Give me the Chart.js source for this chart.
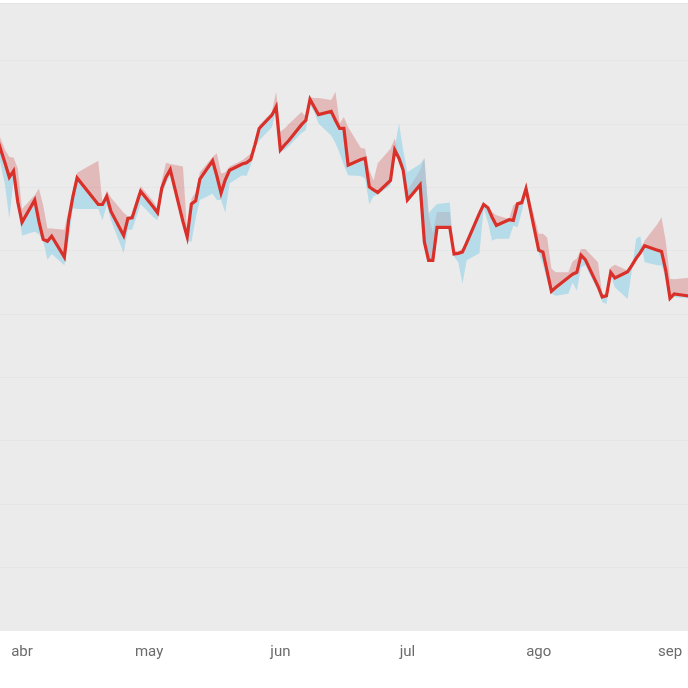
<!DOCTYPE html>
<html>
<head>
<meta charset="utf-8">
<script src="https://cdn.jsdelivr.net/npm/chart.js@4.4.1/dist/chart.umd.min.js"></script>
<style>
  html, body { margin: 0; padding: 0; background: #ffffff; }
  canvas { display: block; }
</style>
</head>
<body>
<canvas id="chart" width="688" height="688"></canvas>
<script>
// trading days
const dates = [
  '2022-03-25', '2022-03-28', '2022-03-29', '2022-03-30', '2022-03-31', '2022-04-01',
  '2022-04-04', '2022-04-05', '2022-04-06', '2022-04-07', '2022-04-08',
  '2022-04-11', '2022-04-12', '2022-04-13', '2022-04-14',
  '2022-04-19', '2022-04-20', '2022-04-21', '2022-04-22',
  '2022-04-25', '2022-04-26', '2022-04-27', '2022-04-28', '2022-04-29',
  '2022-05-02', '2022-05-03', '2022-05-04', '2022-05-05', '2022-05-06',
  '2022-05-09', '2022-05-10', '2022-05-11', '2022-05-12', '2022-05-13',
  '2022-05-16', '2022-05-17', '2022-05-18', '2022-05-19', '2022-05-20',
  '2022-05-23', '2022-05-24', '2022-05-25', '2022-05-26', '2022-05-27',
  '2022-05-30', '2022-05-31', '2022-06-01', '2022-06-02', '2022-06-03',
  '2022-06-06', '2022-06-07', '2022-06-08', '2022-06-09', '2022-06-10',
  '2022-06-13', '2022-06-14', '2022-06-15', '2022-06-16', '2022-06-17',
  '2022-06-20', '2022-06-21', '2022-06-22', '2022-06-23', '2022-06-24',
  '2022-06-27', '2022-06-28', '2022-06-29', '2022-06-30', '2022-07-01',
  '2022-07-04', '2022-07-05', '2022-07-06', '2022-07-07', '2022-07-08',
  '2022-07-11', '2022-07-12', '2022-07-13', '2022-07-14', '2022-07-15',
  '2022-07-18', '2022-07-19', '2022-07-20', '2022-07-21', '2022-07-22',
  '2022-07-25', '2022-07-26', '2022-07-27', '2022-07-28', '2022-07-29',
  '2022-08-01', '2022-08-02', '2022-08-03', '2022-08-04', '2022-08-05',
  '2022-08-08', '2022-08-09', '2022-08-10', '2022-08-11', '2022-08-12',
  '2022-08-15', '2022-08-16', '2022-08-17', '2022-08-18', '2022-08-19',
  '2022-08-22', '2022-08-23', '2022-08-24', '2022-08-25', '2022-08-26',
  '2022-08-29', '2022-08-30', '2022-08-31', '2022-09-01', '2022-09-02',
  '2022-09-05', '2022-09-06',
];

const closeValues = [
  80.1, 73.8, 71.6, 72.6, 67.7, 64.5,
  68.0, 64.6, 61.8, 61.5, 62.3,
  59.0, 64.8, 68.5, 71.5,
  67.3, 67.3, 68.6, 66.2,
  62.4, 65.1, 65.2, 67.3, 69.4,
  66.9, 66.0, 69.9, 71.6, 72.8,
  64.6, 62.2, 67.4, 67.9, 71.3,
  74.2, 71.8, 69.1, 71.2, 72.7,
  73.7, 73.9, 74.4, 76.7, 79.3,
  81.4, 82.7, 75.9, 76.7, 77.4,
  79.9, 80.6, 83.9, 82.7, 81.5,
  82.0, 80.6, 79.3, 79.3, 73.5,
  74.4, 74.6, 70.1, 69.6, 69.2,
  71.1, 75.9, 74.6, 72.7, 68.0,
  70.4, 61.4, 58.5, 58.5, 63.7,
  63.7, 59.5, 59.6, 59.8, 61.3,
  65.9, 67.3, 66.8, 65.3, 64.0,
  64.9, 64.8, 67.4, 67.6, 69.8,
  60.1, 59.8, 56.7, 53.6, 54.2,
  55.8, 56.3, 56.6, 59.3, 58.6,
  54.4, 52.7, 52.9, 56.6, 55.7,
  56.7, 57.7, 58.8, 59.7, 60.8,
  60.1, 59.9, 56.9, 52.5, 53.2,
  52.9, 52.8,
];

// red band edge
const upperValues = [
  80.9, 75.9, 74.8, 74.7, 73.0, 66.6,
  68.8, 69.8, 67.2, 63.5, 63.5,
  63.3, 66.4, 69.5, 72.3,
  74.2, 67.4, 69.5, 68.4,
  66.0, 65.4, 65.6, 68.3, 70.2,
  67.8, 66.6, 71.1, 73.9, 73.7,
  73.3, 62.9, 68.2, 69.2, 72.4,
  74.8, 75.4, 72.2, 72.4, 73.3,
  74.3, 74.8, 75.3, 77.1, 79.8,
  81.9, 85.1, 78.8, 79.3, 80.0,
  81.9, 81.2, 84.2, 84.1, 84.1,
  83.8, 85.1, 80.1, 81.1, 79.5,
  76.2, 76.1, 72.7, 71.1, 73.8,
  76.1, 77.7, 74.9, 73.8, 69.5,
  72.7, 74.6, 65.6, 62.9, 66.1,
  66.1, 60.1, 59.9, 60.4, 61.6,
  66.4, 67.5, 67.0, 66.1, 65.6,
  65.0, 67.2, 67.7, 68.0, 70.5,
  62.7, 62.7, 62.1, 57.2, 56.6,
  56.6, 58.3, 58.8, 60.3, 60.3,
  58.2, 53.1, 53.3, 57.4, 57.8,
  56.9, 58.2, 59.3, 60.2, 61.6,
  64.2, 65.3, 61.5, 55.6, 55.5,
  55.7, 55.8,
];

// blue band edge
const lowerValues = [
  79.8, 70.3, 65.0, 71.4, 67.0, 62.4,
  63.0, 62.6, 61.5, 58.6, 59.5,
  57.7, 61.6, 66.7, 66.6,
  66.6, 64.8, 67.2, 64.8,
  59.6, 63.3, 63.3, 65.3, 67.4,
  65.3, 64.8, 68.8, 70.6, 71.9,
  63.9, 61.6, 61.4, 65.1, 68.0,
  69.0, 68.0, 68.0, 66.0, 70.6,
  71.9, 71.8, 73.5, 76.2, 77.4,
  79.5, 82.2, 75.7, 75.9, 76.5,
  78.6, 79.0, 83.0, 81.9, 80.1,
  78.2, 77.0, 75.4, 73.5, 71.9,
  71.8, 71.4, 67.3, 68.6, 68.9,
  70.3, 76.2, 80.1, 75.9, 72.4,
  73.7, 74.6, 65.9, 66.7, 67.4,
  67.6, 59.1, 58.2, 54.8, 58.5,
  59.6, 66.7, 64.5, 61.6, 61.9,
  61.9, 64.0, 63.7, 66.1, 69.2,
  59.7, 57.8, 55.3, 53.2, 52.9,
  53.2, 55.0, 53.7, 57.4, 57.7,
  53.7, 51.9, 51.6, 56.1, 54.2,
  52.4, 56.9, 61.9, 62.3, 58.2,
  57.7, 57.7, 55.5, 52.3, 52.7,
  52.5, 52.5,
];

const monthStarts = ['2022-04-01', '2022-05-01', '2022-06-01', '2022-07-01', '2022-08-01', '2022-09-01'];
const monthLabels = ['abr', 'may', 'jun', 'jul', 'ago', 'sep'];

// days counted from 1 April
const origin = Date.UTC(2022, 3, 1);
function toDay(s) {
  const p = s.split('-').map(Number);
  return (Date.UTC(p[0], p[1] - 1, p[2]) - origin) / 86400000;
}
const days = dates.map(toDay);
const tickDays = monthStarts.map(toDay);

const pts = (vals) => vals.map((v, i) => ({ x: days[i], y: v }));

const panelBg = {
  id: 'panelBg',
  beforeDraw(chart) {
    const { ctx, chartArea: a } = chart;
    ctx.save();
    ctx.fillStyle = '#ebebeb';
    ctx.fillRect(a.left, a.top, a.right - a.left, a.bottom - a.top);
    ctx.restore();
  },
};

const data = {
  datasets: [
    {
      label: 'cierre',
      data: pts(closeValues),
      borderColor: '#d9302a',
      borderWidth: 3.2,
      pointRadius: 0,
      fill: false,
      order: 0,
    },
    {
      label: 'superior',
      data: pts(upperValues),
      borderWidth: 0,
      pointRadius: 0,
      backgroundColor: 'rgba(205, 40, 40, 0.25)',
      fill: '-1',
      order: 2,
    },
    {
      label: 'inferior',
      data: pts(lowerValues),
      borderWidth: 0,
      pointRadius: 0,
      backgroundColor: 'rgba(140, 207, 232, 0.55)',
      fill: '-2',
      order: 1,
    },
  ],
};

const config = {
  type: 'line',
  data: data,
  options: {
    responsive: false,
    animation: false,
    layout: { padding: { top: 3, bottom: 15, left: 0, right: 0 } },
    plugins: { legend: { display: false }, tooltip: { enabled: false } },
    elements: { line: { tension: 0 } },
    scales: {
      x: {
        type: 'linear',
        min: -5.2,
        max: 157.25,
        afterBuildTicks: (scale) => { scale.ticks = tickDays.map(v => ({ value: v })); },
        afterFit: (scale) => { scale.paddingLeft = 0; scale.paddingRight = 0; },
        grid: { display: false, drawTicks: false },
        border: { display: false },
        ticks: {
          autoSkip: false,
          maxRotation: 0,
          padding: 12,
          color: '#6b6b6b',
          font: { family: 'Roboto', size: 15 },
          callback: (value, index) => monthLabels[index],
        },
      },
      y: {
        min: 0,
        max: 99.1,
        grid: {
          drawTicks: false,
          color: (c) => (c.tick && c.tick.value === 0 ? 'rgba(0,0,0,0)' : '#e5e5e5'),
          lineWidth: 1,
        },
        border: { display: false },
        ticks: { display: false, stepSize: 10 },
      },
    },
  },
  plugins: [panelBg],
};

new Chart(document.getElementById('chart'), config);
</script>
</body>
</html>
